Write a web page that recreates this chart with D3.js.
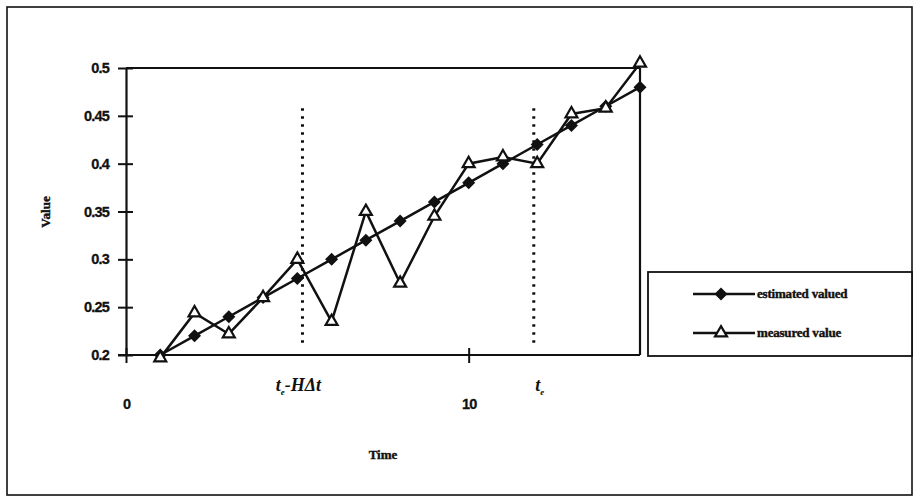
<!DOCTYPE html>
<html><head><meta charset="utf-8">
<script src="https://cdn.jsdelivr.net/npm/d3@7/dist/d3.min.js"></script>
<style>body{margin:0;background:#fff}svg{display:block}</style>
</head><body>
<svg id="c" width="914" height="498"></svg>
<script>
const timeSteps = [1,2,3,4,5,6,7,8,9,10,11,12,13,14,15];
const estimatedValues = [0.20,0.22,0.24,0.26,0.28,0.30,0.32,0.34,0.36,0.38,0.40,0.42,0.44,0.46,0.48];
const measuredValues = [0.197,0.244,0.222,0.260,0.300,0.235,0.350,0.275,0.345,0.400,0.407,0.400,0.452,0.458,0.505];
const yTicks = [0.2,0.25,0.3,0.35,0.4,0.45,0.5];
const yTickLabels = ["0.2","0.25","0.3","0.35","0.4","0.45","0.5"];
const xTicks = [0,10];
const markerTimes = [5.15,11.9];
const seriesNames = ["estimated valued","measured value"];

const svg = d3.select("#c");
const x = d3.scaleLinear().domain([0,15]).range([126,640]);
const y = d3.scaleLinear().domain([0.2,0.5]).range([355,68]);
const INK = "#111";

// outer frame
svg.append("rect").attr("x",7).attr("y",7).attr("width",905).attr("height",488)
  .attr("fill","none").attr("stroke",INK).attr("stroke-width",1.6);

// plot frame top & right
svg.append("line").attr("x1",x(0)).attr("x2",x(15)).attr("y1",y(0.5)).attr("y2",y(0.5)).attr("stroke",INK).attr("stroke-width",2.2);
svg.append("line").attr("x1",x(15)).attr("x2",x(15)).attr("y1",y(0.5)).attr("y2",y(0.2)).attr("stroke",INK).attr("stroke-width",2.2);

// y axis
const yAxis = d3.axisLeft(y).tickValues(yTicks).tickFormat((d,i)=>yTickLabels[i]).tickSizeInner(8).tickSizeOuter(0);
const gy = svg.append("g").attr("transform",`translate(${x(0)},0)`).call(yAxis);
gy.select(".domain").attr("stroke",INK).attr("stroke-width",2.2);
gy.selectAll(".tick line").attr("stroke",INK).attr("stroke-width",2).attr("x2",7).attr("x1",-8);
gy.selectAll(".tick text").attr("font-family","Liberation Sans, Arial, sans-serif").attr("font-weight","bold").attr("font-size",14.5).attr("fill",INK).attr("letter-spacing","-0.8px").attr("x",-17).attr("stroke",INK).attr("stroke-width",0.3);

// x axis
const xAxis = d3.axisBottom(x).tickValues(xTicks).tickFormat(d3.format("d")).tickSizeInner(8).tickSizeOuter(0).tickPadding(36);
const gx = svg.append("g").attr("transform",`translate(0,${y(0.2)})`).call(xAxis);
gx.select(".domain").attr("stroke",INK).attr("stroke-width",2.2).attr("d",`M${x(0)-8},0H${x(15)}`);
gx.selectAll(".tick line").attr("stroke",INK).attr("stroke-width",2).attr("y1",-7).attr("y2",8);
gx.selectAll(".tick text").attr("font-family","Liberation Sans, Arial, sans-serif").attr("font-weight","bold").attr("font-size",14.5).attr("fill",INK).attr("letter-spacing","-0.8px").attr("stroke",INK).attr("stroke-width",0.3);

// vertical dotted marker lines
svg.selectAll("line.mk").data(markerTimes).enter().append("line")
  .attr("x1",d=>x(d)).attr("x2",d=>x(d)).attr("y1",y(0.458)).attr("y2",y(0.21))
  .attr("stroke",INK).attr("stroke-width",3).attr("stroke-dasharray","2.5,5.5");

// marker labels
const lab1 = svg.append("text").attr("x",x(5.15)-4).attr("y",391).attr("text-anchor","middle")
  .attr("font-family","Liberation Serif, serif").attr("font-weight","bold").attr("font-style","italic").attr("font-size",18).attr("fill",INK);
lab1.append("tspan").text("t");
lab1.append("tspan").attr("dy",4).attr("font-size",9).text("e");
lab1.append("tspan").attr("dy",-4).text("-H\u0394t");
const lab2 = svg.append("text").attr("x",x(11.9)+6).attr("y",391).attr("text-anchor","middle")
  .attr("font-family","Liberation Serif, serif").attr("font-weight","bold").attr("font-style","italic").attr("font-size",18).attr("fill",INK);
lab2.append("tspan").text("t");
lab2.append("tspan").attr("dy",4).attr("font-size",9).text("e");

// axis titles
svg.append("text").attr("transform","translate(50,212) rotate(-90)").attr("text-anchor","middle")
  .attr("font-family","Liberation Serif, serif").attr("font-weight","bold").attr("font-size",13).attr("fill",INK).attr("stroke",INK).attr("stroke-width",0.4).text("Value");
svg.append("text").attr("x",383).attr("y",459).attr("text-anchor","middle")
  .attr("font-family","Liberation Serif, serif").attr("font-weight","bold").attr("font-size",13).attr("fill",INK).attr("stroke",INK).attr("stroke-width",0.4).text("Time");

// lines
const est = timeSteps.map((t,i)=>({t,v:estimatedValues[i]}));
const mea = timeSteps.map((t,i)=>({t,v:measuredValues[i]}));
const line = d3.line().x(d=>x(d.t)).y(d=>y(d.v));
svg.append("path").datum(mea).attr("d",line).attr("fill","none").attr("stroke",INK).attr("stroke-width",2.5);
svg.append("path").datum(est).attr("d",line).attr("fill","none").attr("stroke",INK).attr("stroke-width",2.5);

const diamond = "M0,-6.5L6.5,0L0,6.5L-6.5,0Z";
const tri = d3.symbol().type(d3.symbolTriangle).size(62)();
svg.selectAll("path.dm").data(est).enter().append("path")
  .attr("transform",d=>`translate(${x(d.t)},${y(d.v)})`).attr("d",diamond).attr("fill",INK);
svg.selectAll("path.tr").data(mea).enter().append("path")
  .attr("transform",d=>`translate(${x(d.t)},${y(d.v)})`).attr("d",tri).attr("fill","#fff").attr("stroke",INK).attr("stroke-width",2.2);

// legend
svg.append("rect").attr("x",648).attr("y",272).attr("width",264).attr("height",84)
  .attr("fill","#fff").attr("stroke",INK).attr("stroke-width",1.8);
const lg = [{y:294,sym:diamond,fill:INK},{y:333,sym:tri,fill:"#fff"}];
lg.forEach((L,i)=>{
  svg.append("line").attr("x1",693).attr("x2",755).attr("y1",L.y).attr("y2",L.y).attr("stroke",INK).attr("stroke-width",2.5);
  svg.append("path").attr("transform",`translate(721,${L.y})`).attr("d",L.sym).attr("fill",L.fill).attr("stroke",INK).attr("stroke-width",i?2.2:0);
  svg.append("text").attr("x",757).attr("y",L.y+4).attr("font-family","Liberation Serif, serif").attr("font-weight","bold")
    .attr("font-size",13).attr("fill",INK).attr("stroke",INK).attr("stroke-width",0.4).attr("letter-spacing","-0.2px").text(seriesNames[i]);
});
</script>
</body></html>
